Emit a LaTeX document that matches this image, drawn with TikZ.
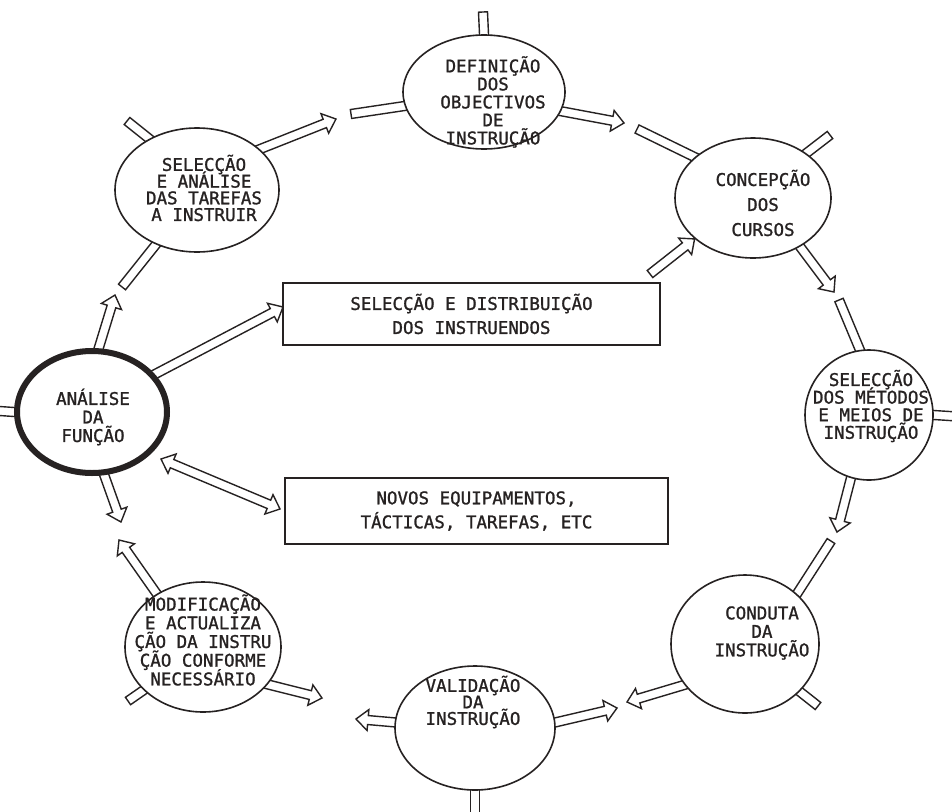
\documentclass[tikz,border=0pt]{standalone}
\usepackage{fontspec}
\newfontfamily\tw[FakeBold=1.2]{DejaVu Sans Mono}
\usetikzlibrary{shapes.geometric,calc}
\pgfdeclarelayer{bg}
\pgfsetlayers{bg,main}
\definecolor{ink}{RGB}{38,34,34}
\def\hw{4.5pt}\def\hW{10.5pt}\def\hh{12pt}
% #1 type: a = arrow, s = stub, d = double arrow; #2 from; #3 to; #4 back extension (pt)
\newcommand\hollow[4]{%
  \path (#2) coordinate (hA) (#3) coordinate (hB);%
  \pgfmathanglebetweenpoints{\pgfpointanchor{hA}{center}}{\pgfpointanchor{hB}{center}}%
  \let\hang\pgfmathresult
  \pgfpointdiff{\pgfpointanchor{hA}{center}}{\pgfpointanchor{hB}{center}}%
  \pgfgetlastxy\hdx\hdy
  \pgfmathsetmacro\hlen{veclen(\hdx,\hdy)}%
  \begin{scope}[shift={(hA)},rotate=\hang]
    \ifx#1a
      \draw[hol] (-#4pt,-\hw) -- (\hlen pt-\hh,-\hw) -- (\hlen pt-\hh,-\hW) -- (\hlen pt,0pt)
        -- (\hlen pt-\hh,\hW) -- (\hlen pt-\hh,\hw) -- (-#4pt,\hw) -- cycle;
    \fi
    \ifx#1s
      \draw[hol] (-#4pt,-\hw) rectangle (\hlen pt,\hw);
    \fi
    \ifx#1d
      \draw[hol] (\hh,-\hw) -- (\hlen pt-\hh,-\hw) -- (\hlen pt-\hh,-\hW) -- (\hlen pt,0pt)
        -- (\hlen pt-\hh,\hW) -- (\hlen pt-\hh,\hw) -- (\hh,\hw) -- (\hh,\hW) -- (0pt,0pt)
        -- (\hh,-\hW) -- cycle;
    \fi
  \end{scope}}
\begin{document}
\begin{tikzpicture}[x=1pt,y=-1pt,
  ell/.style={ellipse, draw=ink, fill=white, line width=1.6pt, inner sep=0pt},
  boxst/.style={rectangle, draw=ink, fill=white, line width=1.6pt, inner sep=0pt,
    align=center, text=ink, font={\tw\fontsize{17.5}{24}\selectfont\lineskiplimit=-40pt}},
  tx/.style={font={\tw\fontsize{17.5}{#1}\selectfont\lineskiplimit=-40pt},
    align=center, inner sep=0pt, text=ink},
  tx/.default=18,
  hol/.style={draw=ink, fill=white, line width=1.4pt, line join=miter}]
\useasboundingbox (0,0) rectangle (952,811);
\begin{pgfonlayer}{bg}
  \fill[white] (0,0) rectangle (952,811);
\end{pgfonlayer}

% ---- process ellipses ----
\node[ell, minimum width=162pt, minimum height=114pt] (def) at (484,92) {};
\node[ell, minimum width=156pt, minimum height=120pt] (con) at (753,198) {};
\node[ell, minimum width=128pt, minimum height=130pt] (met) at (869,415) {};
\node[ell, minimum width=148pt, minimum height=138pt] (cond) at (745,644) {};
\node[ell, minimum width=160pt, minimum height=124pt] (val) at (475,728) {};
\node[ell, minimum width=156pt, minimum height=130pt] (mod) at (203,647) {};
\node[ell, line width=6pt, minimum width=150pt, minimum height=122pt] (ana) at (92,412) {};
\node[ell, minimum width=164pt, minimum height=124pt] (sel) at (197,190) {};

% ---- boxes ----
\node[boxst, minimum width=377pt, minimum height=62pt] (boxA) at (471.5,314)
  {SELECÇÃO E DISTRIBUIÇÃO\\DOS INSTRUENDOS};
\node[boxst, minimum width=383pt, minimum height=66pt] (boxB) at (476.5,511)
  {NOVOS EQUIPAMENTOS,\\TÁCTICAS, TAREFAS, ETC};

% ---- texts ----
\node[tx] (defT) at (493,102) {DEFINIÇÃO\\DOS\\OBJECTIVOS\\DE\\INSTRUÇÃO};
\node[tx=25] (conT) at (763,203) {CONCEPÇÃO\\DOS\\CURSOS};
\node[tx=17.6] (metT) at (871,406) {SELECÇÃO\\DOS MÉTODOS\\E MEIOS DE\\INSTRUÇÃO};
\node[tx=18.5] (condT) at (762,633) {CONDUTA\\DA\\INSTRUÇÃO};
\node[tx=16.5] (valT) at (473,702) {VALIDAÇÃO\\DA\\INSTRUÇÃO};
\node[tx=18.7] (modT) at (203,640) {MODIFICAÇÃO\\E ACTUALIZA\\ÇÃO DA INSTRU\\ÇÃO CONFORME\\NECESSÁRIO};
\node[tx=18.5] (anaT) at (93,417) {ANÁLISE\\DA\\FUNÇÃO};
\node[tx=16.7] (selT) at (204,188) {SELECÇÃO\\E ANÁLISE\\DAS TAREFAS\\A INSTRUIR};

% ---- free ends ----
\coordinate (t1) at (336,119);  \coordinate (s1) at (351,114);
\coordinate (t2) at (624,123);  \coordinate (s2) at (637,129);
\coordinate (t3) at (834,292);  \coordinate (s3) at (839,300);
\coordinate (t4) at (837,532);  \coordinate (s4) at (831,541);
\coordinate (t5) at (627,702);  \coordinate (t6) at (617,708);
\coordinate (t7) at (356,719);  \coordinate (t8) at (322,698);
\coordinate (t9) at (119,540);  \coordinate (t10) at (121,522);
\coordinate (t11) at (115,295); \coordinate (s11) at (122,287);
\coordinate (t12) at (283,307);
\coordinate (d1) at (161,459);  \coordinate (d2) at (280,509);
\coordinate (b1) at (650,274);
\coordinate (x1) at (483,12);   \coordinate (x2) at (830,135);
\coordinate (x3) at (965,417);  \coordinate (x4) at (818,706);
\coordinate (x5) at (475,825);  \coordinate (x6) at (128,701);
\coordinate (x7) at (-15,410);  \coordinate (x8) at (127,121);

% ---- hollow connectors ----
\begin{pgfonlayer}{bg}
  \hollow{a}{sel.33}{t1}{8}
  \hollow{s}{def.190}{s1}{8}
  \hollow{a}{def.346}{t2}{8}
  \hollow{s}{con.145}{s2}{8}
  \hollow{a}{con.314}{t3}{8}
  \hollow{s}{met.98}{s3}{8}
  \hollow{a}{met.254}{t4}{8}
  \hollow{s}{cond.44}{s4}{8}
  \hollow{a}{cond.214}{t5}{8}
  \hollow{a}{val.4}{t6}{8}
  \hollow{a}{val.176}{t7}{8}
  \hollow{a}{mod.330}{t8}{8}
  \hollow{a}{mod.131}{t9}{8}
  \hollow{a}{ana.281}{t10}{8}
  \hollow{a}{ana.84}{t11}{8}
  \hollow{s}{sel.233}{s11}{8}
  \hollow{a}{ana.31}{t12}{8}
  \hollow{d}{d1}{d2}{0}
  \hollow{a}{b1}{con.215}{0}
  \hollow{s}{def.90}{x1}{8}
  \hollow{s}{con.40}{x2}{8}
  \hollow{s}{met.0}{x3}{8}
  \hollow{s}{cond.319}{x4}{8}
  \hollow{s}{val.270}{x5}{8}
  \hollow{s}{mod.216}{x6}{8}
  \hollow{s}{ana.180}{x7}{8}
  \hollow{s}{sel.133}{x8}{8}
\end{pgfonlayer}
\end{tikzpicture}
\end{document}
